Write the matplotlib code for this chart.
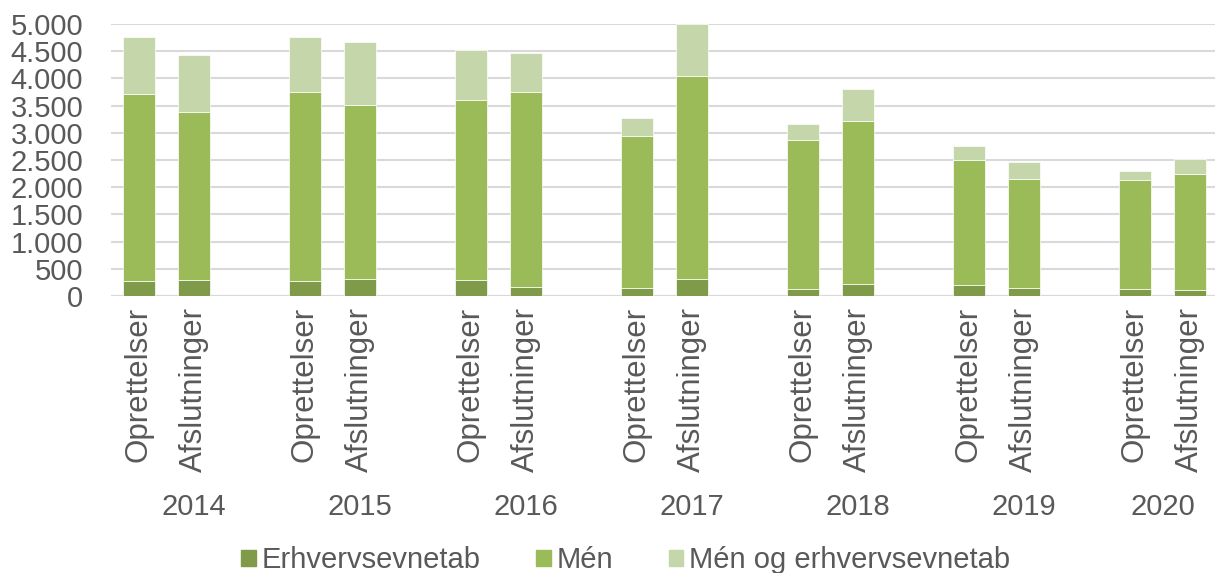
import matplotlib.pyplot as plt
from matplotlib.patches import Patch
import numpy as np

plt.rcParams['font.family'] = ['Liberation Sans', 'DejaVu Sans']

years = ["2014", "2015", "2016", "2017", "2018", "2019", "2020"]
kinds = ["Oprettelser", "Afslutninger"]

# per bar, order: 2014 Opr, 2014 Afs, 2015 Opr, ...
erhverv = [276, 294, 276, 313, 294, 166, 147, 313, 135, 227, 196, 147, 135, 110]
men = [3436, 3086, 3472, 3196, 3307, 3589, 2786, 3730, 2736, 2994, 2307, 2000, 2000, 2135]
men_og_erhverv = [1055, 1049, 1007, 1154, 920, 717, 331, 957, 289, 583, 252, 313, 172, 270]

c_erh = "#7f9a48"
c_men = "#9bbb59"
c_both = "#c5d6ab"
txt = "#595959"

# three slots per year, the third one is empty
pos = []
for i in range(len(years)):
    pos += [3 * i, 3 * i + 1]
pos = np.array(pos)
e = np.array(erhverv)
m = np.array(men)
b = np.array(men_og_erhverv)

fig = plt.figure(figsize=(12.15, 5.73), dpi=100)
ax = fig.add_axes([0.0914, 0.4834, 0.9086, 0.4746])

w = 0.58
ax.bar(pos, e, w, color=c_erh, edgecolor="white", linewidth=0.5, zorder=3)
ax.bar(pos, m, w, bottom=e, color=c_men, edgecolor="white", linewidth=0.5, zorder=3)
ax.bar(pos, b, w, bottom=e + m, color=c_both, edgecolor="white", linewidth=0.5, zorder=3)

ax.set_ylim(0, 5000)
ax.set_xlim(-0.5, 19.45)
ax.set_yticks(np.arange(0, 5001, 500))
ax.set_yticklabels([f"{v:,}".replace(",", ".") for v in range(0, 5001, 500)])
ax.yaxis.grid(True, color="#d9d9d9", linewidth=1.5, zorder=0)
ax.set_axisbelow(True)
for s in ax.spines.values():
    s.set_visible(False)
ax.axhline(0, color="#d9d9d9", linewidth=1.5, zorder=1)

ax.set_xticks(pos)
ax.set_xticklabels(kinds * len(years), rotation=90, va="top", ha="center")
ax.tick_params(axis="both", length=0, colors=txt)
ax.tick_params(axis="x", pad=8, labelsize=22.5)
ax.tick_params(axis="y", pad=20, labelsize=21)

# year labels: centred on the group of three slots (last group has only two)
for i, y in enumerate(years):
    xc = 3 * i + 1 if i < len(years) - 1 else 3 * i + 0.5
    ax.text(xc, -0.775, y, transform=ax.get_xaxis_transform(),
            ha="center", va="center", fontsize=21, color=txt)

handles = [Patch(color=c_erh, label="Erhvervsevnetab"),
           Patch(color=c_men, label="Mén"),
           Patch(color=c_both, label="Mén og erhvervsevnetab")]
leg = fig.legend(handles=handles, loc="center", bbox_to_anchor=(0.515, 0.022), ncol=3,
                 frameon=False, fontsize=21, handlelength=0.5, handleheight=0.5,
                 handletextpad=0.2, columnspacing=1.9, borderpad=0)
for t in leg.get_texts():
    t.set_color(txt)

fig.savefig("out.png", dpi=100)
